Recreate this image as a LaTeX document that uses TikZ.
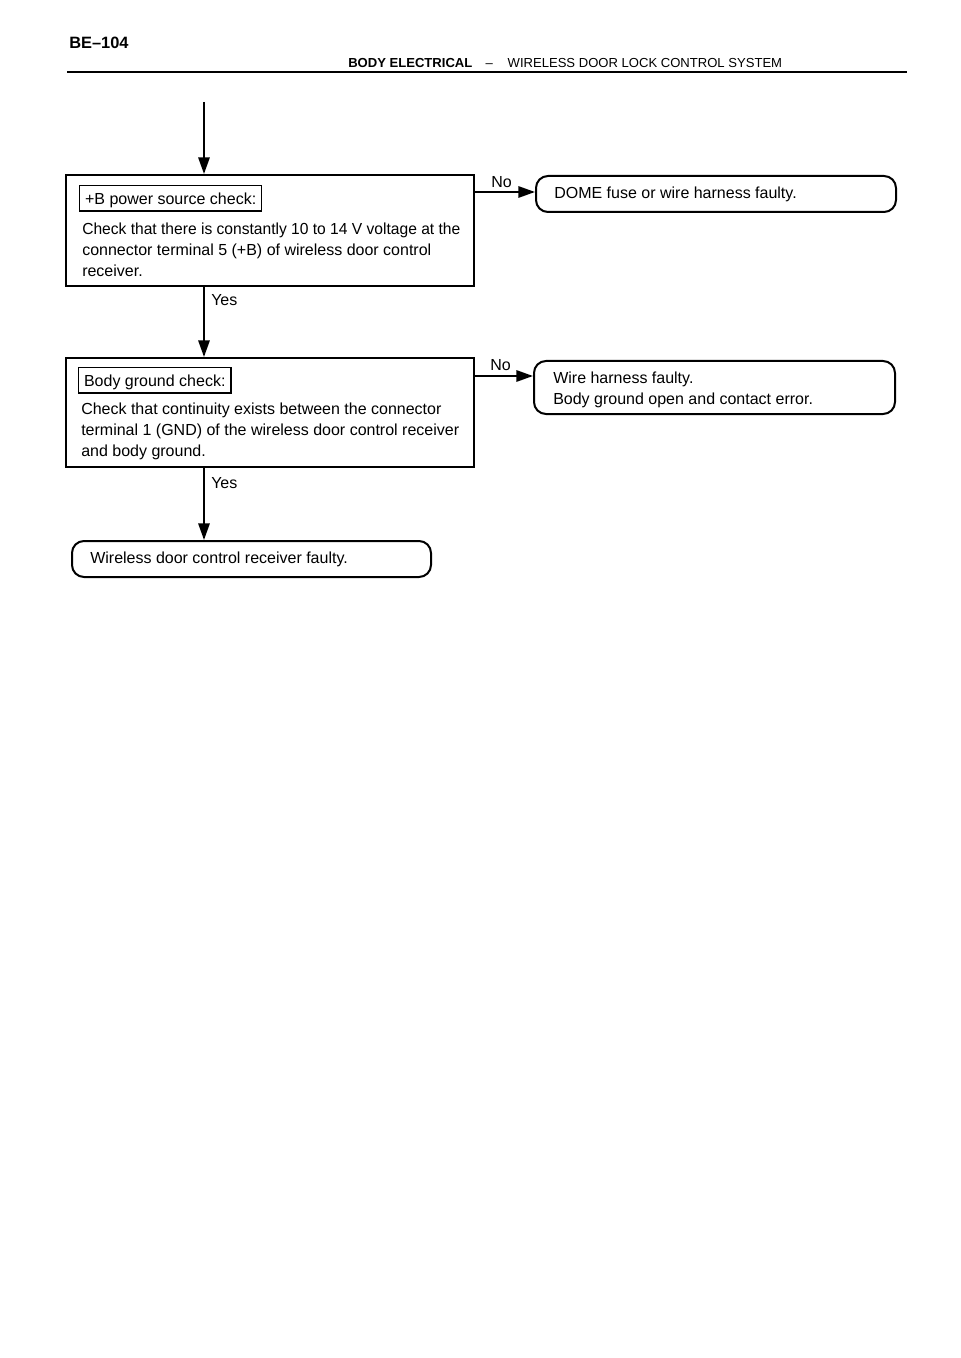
\documentclass[tikz,border=0pt]{standalone}
\usepackage{fontspec}
\usepackage{graphicx}
\setmainfont{Liberation Sans}
\usetikzlibrary{arrows.meta,fit}
\begin{document}
\begin{tikzpicture}[x=0.75pt,y=-0.75pt,
  every node/.style={inner sep=0pt,font=\fontsize{12}{15.75}\selectfont},
  checkbox/.style={draw,line width=1.5pt,inner sep=0pt},
  endbox/.style={draw,line width=1.5pt,inner sep=0pt,rounded corners=9pt},
  labelbox/.style={draw,line width=1.1pt,inner xsep=4pt,inner ysep=0pt,text height=14.5pt,text depth=4.5pt,anchor=base west},
  bodytext/.style={anchor=north west,align=left},
  linetext/.style={anchor=base west},
  arr/.style={line width=1.5pt,-{Triangle[length=12.5pt,width=8.5pt]}},
  rulestyle/.style={line width=2.2pt}]
\useasboundingbox (0,0) rectangle (960,1358);

% header
\node[linetext,font=\fontsize{12.3}{14}\selectfont\bfseries] (pg) at (69,49) {BE–104};
\node[linetext,font=\fontsize{9.8}{12}\selectfont] (ttl) at (348,68) {\textbf{BODY ELECTRICAL}\hspace{10pt}–\hspace{11pt}WIRELESS DOOR LOCK CONTROL SYSTEM};
\coordinate (rl) at (67,72);
\coordinate (rr) at (907,72);
\draw[rulestyle] (rl) -- (rr);

% check box 1
\node[checkbox,fit={(66,175)(474,286)}] (b1) {};
\node[labelbox] (l1) at (79,205) {+B power source check:};
\node[bodytext] (x1) at (82,223) {\scalebox{0.975}[1]{Check that there is constantly 10 to 14 V voltage at the}\\connector terminal 5 (+B) of wireless door control\\receiver.};

% end box 1
\node[endbox,fit={(536,176)(896,212)}] (t1) {};
\node[linetext] (tt1) at (554,199) {DOME fuse or wire harness faulty.};

% check box 2
\node[checkbox,fit={(66,358)(474,467)}] (b2) {};
\node[labelbox] (l2) at (78,387) {Body ground check:};
\node[bodytext] (x2) at (81,402.5) {Check that continuity exists between the connector\\terminal 1 (GND) of the wireless door control receiver\\and body ground.};

% end box 2
\node[endbox,fit={(534,361)(895,414)}] (t2) {};
\node[bodytext] (tt2) at (553,371.5) {Wire harness faulty.\\Body ground open and contact error.};

% end box 3
\node[endbox,fit={(72,541)(431,577)}] (t3) {};
\node[linetext] (tt3) at (90,563) {Wireless door control receiver faulty.};

% connectors
\coordinate (s0) at (204,102);
\draw[arr] (s0) -- (b1.north -| s0);
\draw[arr] (b1.south -| s0) -- (b2.north -| s0);
\draw[arr] (b2.south -| s0) -- (t3.north -| s0);
\draw[arr] ([yshift=-13.5pt]b1.north east) coordinate (n1) -- (n1 -| t1.west);
\draw[arr] ([yshift=-14.25pt]b2.north east) coordinate (n2) -- (n2 -| t2.west);

% labels
\node[linetext] (no1) at (491,188) {No};
\node[linetext] (no2) at (490,370) {No};
\node[linetext] (y1) at (211,306) {Yes};
\node[linetext] (y2) at (211,488) {Yes};
\end{tikzpicture}
\end{document}
